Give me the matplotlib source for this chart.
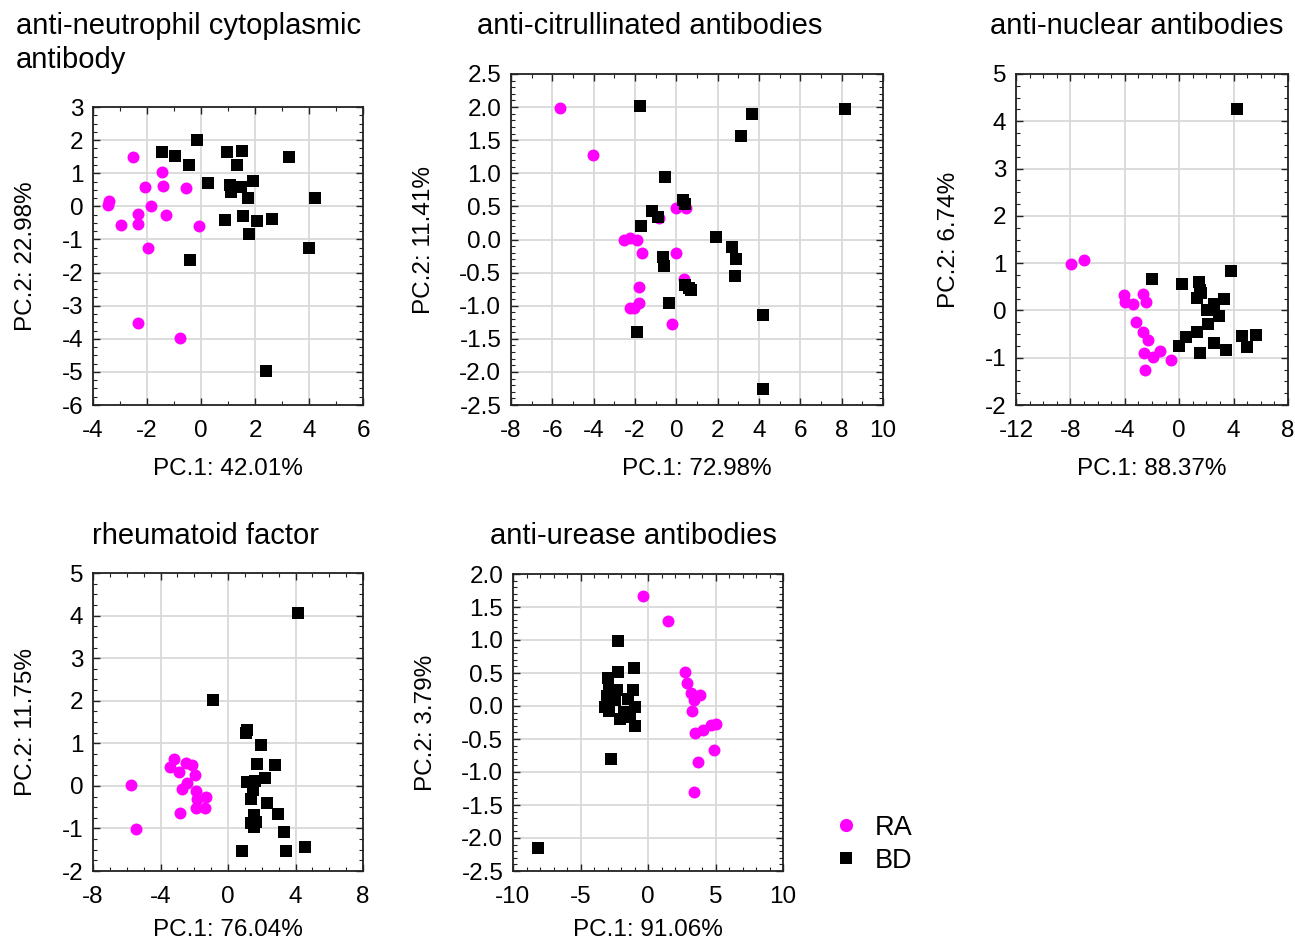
import matplotlib
matplotlib.use("Agg")
import matplotlib.pyplot as plt
from matplotlib.ticker import MultipleLocator, FormatStrFormatter
from matplotlib.lines import Line2D

plt.rcParams['font.family'] = ['Liberation Sans', 'DejaVu Sans']
plt.rcParams['axes.unicode_minus'] = False

# ---------------- data ----------------
titles = ["anti-neutrophil cytoplasmic\nantibody", "anti-citrullinated antibodies",
          "anti-nuclear antibodies", "rheumatoid factor", "anti-urease antibodies"]
xlabels = ["PC.1: 42.01%", "PC.1: 72.98%", "PC.1: 88.37%", "PC.1: 76.04%", "PC.1: 91.06%"]
ylabels = ["PC.2: 22.98%", "PC.2: 11.41%", "PC.2: 6.74%", "PC.2: 11.75%", "PC.2: 3.79%"]

# Panel 1: anti-neutrophil cytoplasmic antibody
p1_ra_x = [-2.53, -1.46, -2.07, -1.42, -0.56, -3.40, -3.43, -1.85, -2.35, -1.28, -2.98, -2.35, -0.06, -1.95, -2.33, -0.78]
p1_ra_y = [1.49, 1.03, 0.58, 0.62, 0.55, 0.15, 0.03, 0.02, -0.22, -0.26, -0.57, -0.52, -0.58, -1.27, -3.52, -3.97]
p1_bd_x = [-0.14, -1.46, -0.95, 0.96, 1.51, 3.27, -0.44, 1.35, 0.26, 1.09, 1.48, 1.12, 1.94, 1.75, 4.22, 0.89, 1.54, 2.07, 2.63, 1.77, 4.01, -0.41, 2.41]
p1_bd_y = [2.00, 1.64, 1.52, 1.63, 1.68, 1.49, 1.24, 1.24, 0.69, 0.64, 0.58, 0.42, 0.77, 0.24, 0.26, -0.42, -0.28, -0.43, -0.37, -0.85, -1.26, -1.61, -4.98]

# Panel 2: anti-citrullinated antibodies
p2_ra_x = [-5.61, -4.02, 0.00, 0.48, -0.84, -2.55, -2.26, -1.89, -1.65, -0.02, 0.37, -1.81, -2.26, -2.05, -1.82, -0.23]
p2_ra_y = [1.98, 1.27, 0.48, 0.48, 0.33, 0.00, 0.03, -0.01, -0.20, -0.20, -0.60, -0.71, -1.03, -1.03, -0.96, -1.27]
p2_bd_x = [-1.77, 3.66, 3.15, -0.53, 0.32, 0.40, -1.16, -0.87, -1.72, 1.94, 2.69, 2.87, 2.82, -0.63, -0.58, 0.44, 0.60, 0.73, -0.37, -1.89, 4.18, 4.18, 8.16]
p2_bd_y = [2.01, 1.90, 1.56, 0.95, 0.59, 0.54, 0.43, 0.34, 0.20, 0.04, -0.12, -0.30, -0.55, -0.26, -0.40, -0.69, -0.73, -0.76, -0.96, -1.39, -1.14, -2.26, 1.97]

# Panel 3: anti-nuclear antibodies
p3_ra_x = [-7.94, -6.98, -4.05, -3.96, -3.37, -2.68, -2.43, -3.19, -2.68, -2.33, -2.60, -1.89, -1.38, -0.57, -2.53]
p3_ra_y = [0.98, 1.06, 0.32, 0.17, 0.13, 0.35, 0.18, -0.25, -0.45, -0.63, -0.91, -0.99, -0.85, -1.04, -1.25]
p3_bd_x = [4.28, -1.97, 0.17, 1.47, 1.55, 1.30, 1.62, 3.81, 3.32, 2.56, 2.04, 2.95, 2.14, 1.28, 0.47, 0.00, 1.55, 2.56, 3.44, 4.64, 5.68, 4.96]
p3_bd_y = [4.27, 0.66, 0.56, 0.60, 0.44, 0.27, 0.37, 0.83, 0.25, 0.13, 0.00, -0.12, -0.29, -0.46, -0.57, -0.75, -0.90, -0.68, -0.84, -0.55, -0.51, -0.78]

# Panel 4: rheumatoid factor
p4_ra_x = [-5.75, -5.43, -3.19, -3.44, -2.93, -2.48, -2.13, -1.95, -2.44, -2.70, -1.87, -1.30, -1.83, -1.87, -1.38, -2.85]
p4_ra_y = [0.02, -1.01, 0.63, 0.44, 0.33, 0.53, 0.49, 0.25, 0.07, -0.08, -0.12, -0.25, -0.30, -0.53, -0.53, -0.64]
p4_bd_x = [4.15, -0.89, 1.12, 1.04, 1.93, 1.71, 2.76, 2.20, 1.12, 1.61, 1.48, 1.36, 2.30, 2.95, 1.56, 1.38, 1.65, 1.57, 3.31, 0.85, 3.41, 4.59]
p4_bd_y = [4.05, 2.02, 1.31, 1.23, 0.97, 0.51, 0.49, 0.18, 0.09, 0.11, -0.10, -0.32, -0.41, -0.67, -0.68, -0.87, -0.85, -0.96, -1.09, -1.54, -1.53, -1.43]

# Panel 5: anti-urease antibodies
p5_ra_x = [-0.39, 1.48, 2.71, 2.88, 3.18, 3.87, 3.40, 3.23, 3.50, 4.11, 4.66, 5.00, 4.88, 3.74, 3.42]
p5_ra_y = [1.66, 1.29, 0.51, 0.35, 0.20, 0.16, 0.09, -0.07, -0.41, -0.36, -0.29, -0.28, -0.66, -0.85, -1.30]
p5_bd_x = [-8.15, -2.19, -1.03, -2.24, -2.98, -1.11, -2.88, -2.29, -3.05, -1.50, -3.20, -2.91, -0.99, -2.04, -1.35, -2.41, -1.80, -0.99, -2.71]
p5_bd_y = [-2.15, 0.98, 0.58, 0.51, 0.43, 0.25, 0.25, 0.24, 0.15, 0.11, -0.02, -0.08, -0.02, -0.19, -0.17, 0.09, -0.09, -0.31, -0.81]

ra_x = [p1_ra_x, p2_ra_x, p3_ra_x, p4_ra_x, p5_ra_x]
ra_y = [p1_ra_y, p2_ra_y, p3_ra_y, p4_ra_y, p5_ra_y]
bd_x = [p1_bd_x, p2_bd_x, p3_bd_x, p4_bd_x, p5_bd_x]
bd_y = [p1_bd_y, p2_bd_y, p3_bd_y, p4_bd_y, p5_bd_y]

xlims = [(-4, 6), (-8, 10), (-12, 8), (-8, 8), (-10, 10)]
ylims = [(-6, 3), (-2.5, 2.5), (-2, 5), (-2, 5), (-2.5, 2.0)]
xmaj = [2, 2, 4, 4, 5]
xmin = [1, 1, 1, 1, 1]
ymaj = [1, 0.5, 1, 1, 0.5]
ymin = [0.25, 0.1, 0.25, 0.25, 0.1]
yfmt = ['%d', '%.1f', '%d', '%d', '%.1f']

# ---------------- layout (pixels) ----------------
W, H = 1295, 942
boxes = [(93, 107, 363, 405), (511, 74, 883, 405), (1016, 74, 1288, 405),
         (93, 573, 363, 871), (513, 574, 783, 871)]
# top of first title line
title_pos = [(16, 12), (477, 12), (990, 12), (92, 522), (490, 522)]
xlabpad = [11, 11, 11, 8, 8]

RA_COLOR = '#FF00FF'
fig = plt.figure(figsize=(W / 100, H / 100), dpi=100)

for i in range(5):
    l, t, r, b = boxes[i]
    ax = fig.add_axes([l / W, 1 - b / H, (r - l) / W, (b - t) / H])
    ax.set_axisbelow(True)
    ax.grid(True, which='major', color='#d9d9d9', linewidth=1.3)
    ax.scatter(ra_x[i], ra_y[i], s=74, marker='o', color=RA_COLOR, linewidths=0, zorder=3)
    ax.scatter(bd_x[i], bd_y[i], s=70, marker='s', color='black', linewidths=0, zorder=3)
    ax.set_xlim(*xlims[i])
    ax.set_ylim(*ylims[i])
    ax.xaxis.set_major_locator(MultipleLocator(xmaj[i]))
    ax.xaxis.set_minor_locator(MultipleLocator(xmin[i]))
    ax.yaxis.set_major_locator(MultipleLocator(ymaj[i]))
    ax.yaxis.set_minor_locator(MultipleLocator(ymin[i]))
    ax.yaxis.set_major_formatter(FormatStrFormatter(yfmt[i]))
    ax.tick_params(which='both', direction='in', top=True, right=True, labelsize=17.5, color='#222222')
    ax.tick_params(axis='y', which='both', pad=7)
    ax.tick_params(axis='x', which='both', pad=11)
    ax.tick_params(which='major', length=5, width=1)
    ax.tick_params(which='minor', length=3, width=0.8)
    for sp in ax.spines.values():
        sp.set_linewidth(1.3)
        sp.set_color('#222222')
    ax.set_xlabel(xlabels[i], fontsize=17.5, labelpad=xlabpad[i])
    ax.set_ylabel(ylabels[i], fontsize=17.5, labelpad=17.5)
    tx, ty = title_pos[i]
    fig.text(tx / W, 1 - ty / H, titles[i], fontsize=21, ha='left', va='top',
             linespacing=1.25)

handles = [Line2D([], [], marker='o', linestyle='none', color=RA_COLOR, markersize=9.5, markeredgewidth=0),
           Line2D([], [], marker='s', linestyle='none', color='black', markersize=8, markeredgewidth=0)]
fig.legend(handles, ['RA', 'BD'], loc='upper left', bbox_to_anchor=(822 / W, 1 - 804 / H),
           frameon=False, fontsize=19.5, handletextpad=0.55, handlelength=1.0, labelspacing=0.25,
           borderaxespad=0)

fig.savefig('out.png', dpi=100)
